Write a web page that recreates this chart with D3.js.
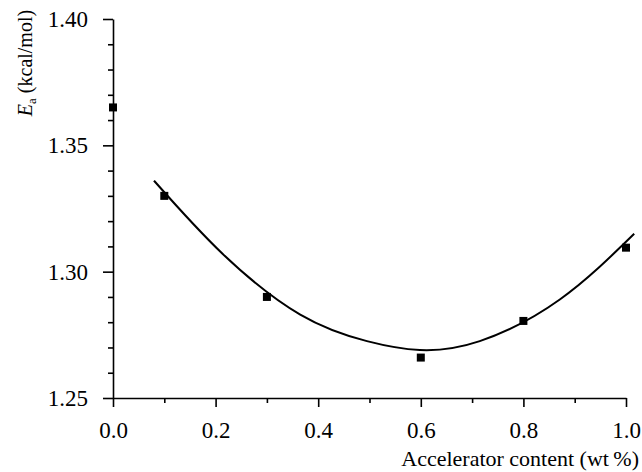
<!DOCTYPE html>
<html>
<head>
<meta charset="utf-8">
<script src="https://cdn.jsdelivr.net/npm/d3@7"></script>
<style>
  body { margin: 0; background: #fff; }
  svg { display: block; }
</style>
</head>
<body>
<svg width="642" height="472"></svg>
<script>
// measured points
const accel = [0.0, 0.1, 0.3, 0.6, 0.8, 1.0];
const ea = [1.365, 1.330, 1.290, 1.266, 1.2805, 1.3095];

// fitted curve
const fitX = [0.080, 0.214, 0.365, 0.495, 0.598, 0.715, 0.871, 1.016];
const fitY = [1.336, 1.307, 1.283, 1.2725, 1.269, 1.2725, 1.289, 1.315];

const xTicks = [0.0, 0.2, 0.4, 0.6, 0.8, 1.0];
const yTicks = [1.25, 1.30, 1.35, 1.40];

const serif = '"Liberation Serif", "Times New Roman", serif';
const svg = d3.select("svg");

const x = d3.scaleLinear().domain([0, 1]).range([113, 626]);
const y = d3.scaleLinear().domain([1.25, 1.40]).range([398, 19]);

// minor ticks
const xMinor = d3.range(0, 11).map(i => i / 10).filter((v, i) => i % 2 === 1);
const yMinor = d3.range(0, 16).map(i => 1.25 + i / 100).filter((v, i) => i % 5 !== 0);

const gx = svg.append("g").attr("transform", "translate(0,398)");
gx.call(d3.axisBottom(x).tickValues(xMinor).tickSize(5).tickFormat(""));
gx.call(g => g.selectAll(".domain").remove());
svg.append("g").attr("transform", "translate(0,398)")
  .call(d3.axisBottom(x).tickValues(xTicks).tickSize(9).tickPadding(15).tickSizeOuter(0)
    .tickFormat(d3.format(".1f")));

const gy = svg.append("g").attr("transform", "translate(113,0)");
gy.call(d3.axisLeft(y).tickValues(yMinor).tickSize(5).tickFormat(""));
gy.call(g => g.selectAll(".domain").remove());
svg.append("g").attr("transform", "translate(113,0)")
  .call(d3.axisLeft(y).tickValues(yTicks).tickSize(10).tickPadding(15).tickSizeOuter(0)
    .tickFormat(d3.format(".2f")));

svg.selectAll(".tick line, .domain").attr("stroke", "#000").attr("stroke-width", 1.6);
svg.selectAll(".tick text")
  .style("font-family", serif)
  .attr("font-size", 23)
  .attr("fill", "#000");

// fitted curve
const line = d3.line()
  .curve(d3.curveNatural)
  .x((d, i) => x(fitX[i]))
  .y(d => y(d));
svg.append("path")
  .attr("d", line(fitY))
  .attr("fill", "none")
  .attr("stroke", "#000")
  .attr("stroke-width", 2);

// points
const s = 8;
svg.append("g")
  .selectAll("rect")
  .data(accel)
  .enter()
  .append("rect")
  .attr("x", d => x(d) - s / 2)
  .attr("y", (d, i) => y(ea[i]) - s / 2)
  .attr("width", s)
  .attr("height", s)
  .attr("fill", "#000");

// axis titles
svg.append("text")
  .attr("x", 639)
  .attr("y", 466)
  .attr("text-anchor", "end")
  .style("font-family", serif)
  .attr("font-size", 22)
  .text("Accelerator content (wt\u2009%)");

const yt = svg.append("text")
  .attr("transform", "translate(32,63) rotate(-90)")
  .attr("text-anchor", "middle")
  .style("font-family", serif)
  .attr("font-size", 20);
yt.append("tspan").attr("font-style", "italic").text("E");
yt.append("tspan").attr("font-size", 13).attr("dy", 4).text("a");
yt.append("tspan").attr("dy", -4).text(" (kcal/mol)");
</script>
</body>
</html>
